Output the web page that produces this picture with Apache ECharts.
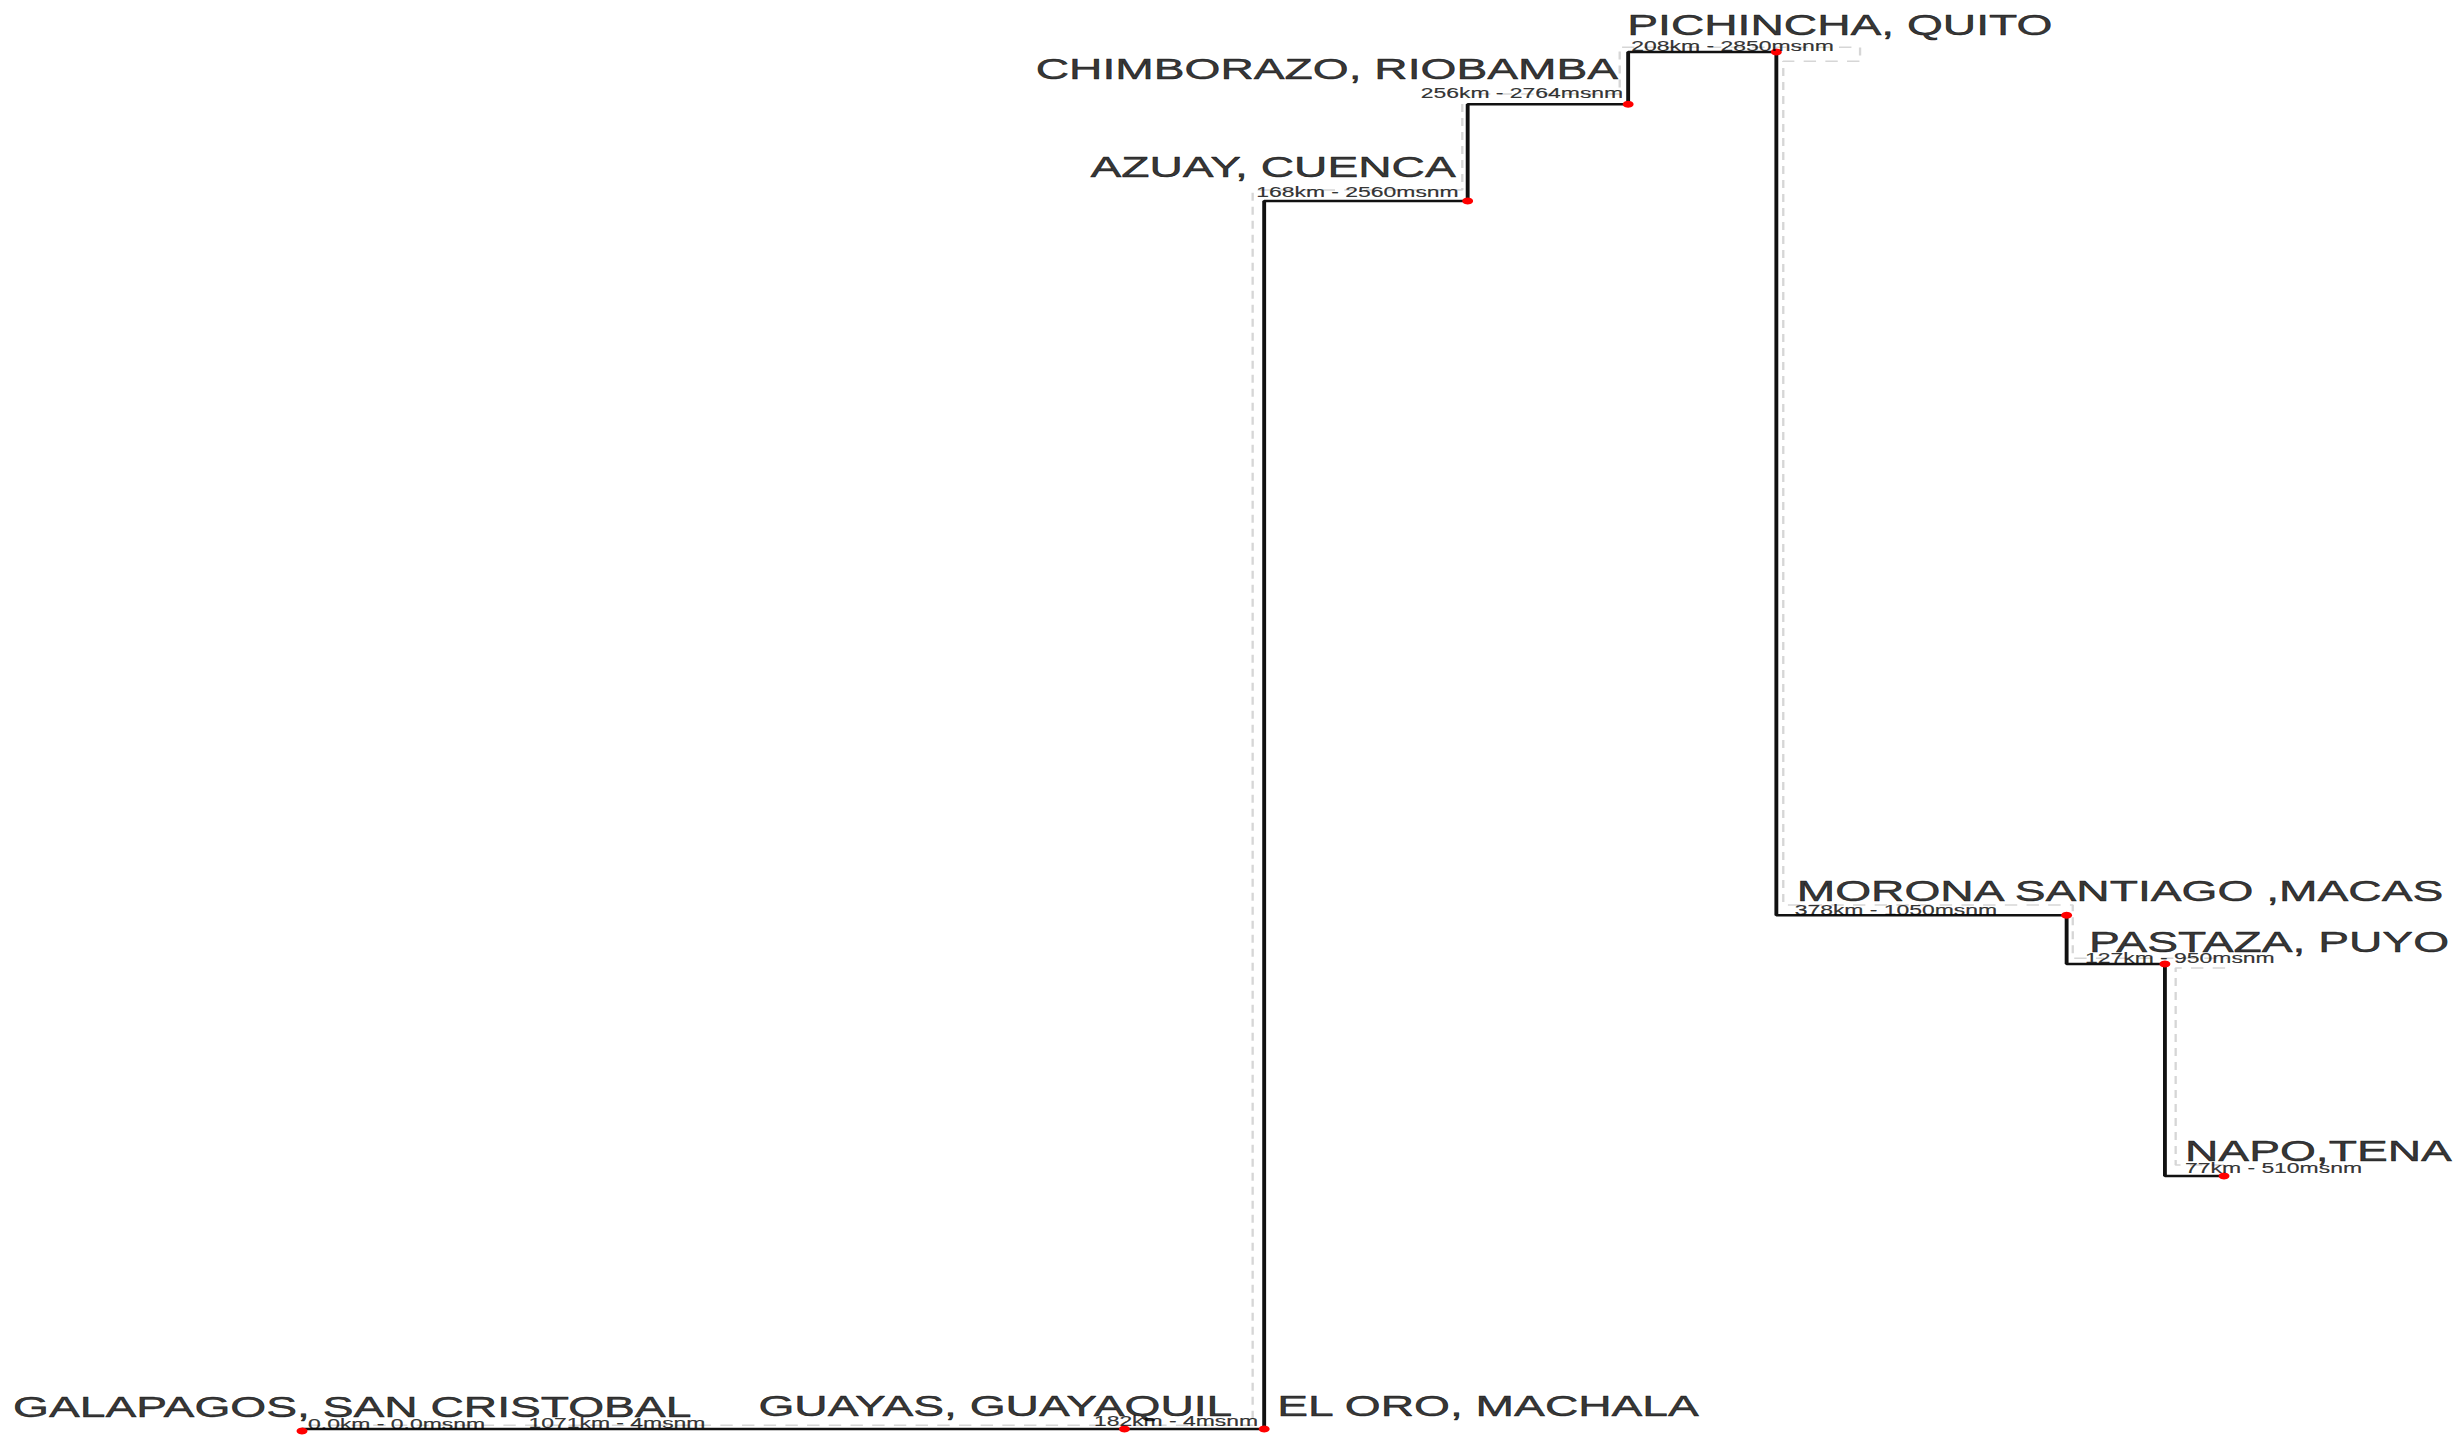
<!DOCTYPE html>
<html>
<head>
  <meta charset="UTF-8">
  <title>Perfil altitudinal</title>
  <script src="https://cdn.jsdelivr.net/npm/echarts@6/dist/echarts.min.js"></script>
  <style>
    html, body { margin: 0; padding: 0; background: #fff; overflow: hidden; }
    /* the original picture is stretched sideways, so the chart is drawn narrower and widened */
    #main {
      width: 1585px;
      height: 1440px;
      transform: scaleX(1.54953);
      transform-origin: 0 0;
    }
  </style>
</head>
<body>
<div id="main"></div>
<script>
  // stops along the route
  const places = ['GALAPAGOS, SAN CRISTOBAL', 'GUAYAS, GUAYAQUIL', 'EL ORO, MACHALA', 'AZUAY, CUENCA',
    'CHIMBORAZO, RIOBAMBA', 'PICHINCHA, QUITO', 'MORONA SANTIAGO ,MACAS', 'PASTAZA, PUYO', 'NAPO,TENA'];
  const legKm = ['0.0', '1071', '182', '168', '256', '208', '378', '127', '77'];
  const legMsnm = ['0.0', '4', '4', '2560', '2764', '2850', '1050', '950', '510'];

  // plotted positions (x: km along route, y: msnm)
  const routeKm = [0, 1071, 1253, 1518, 1727, 1920, 2298, 2426, 2503];
  const altitude = [0, 4, 4, 2542, 2742, 2850, 1066, 965, 527];

  // faint dashed trace drawn behind the profile
  const traceKm = [8, 1238, 1511, 1716, 2029, 1929, 2306, 2580, 2440, 2524];
  const traceAlt = [12, 12, 2565, 2763, 2860, 2831, 1087, 977, 957, 550];

  // label placement, px in the unstretched chart: [dx, dy, align]
  const nameLayout = [[-186.5, -24.5, 'left'], [-236.2, -23, 'left'], [8.4, -23, 'left'], [-7.7, -34, 'right'],
    [-6.5, -36, 'right'], [-96.2, -27, 'left'], [-174.2, -25, 'left'], [-49, -22, 'left'], [-25.2, -25, 'left']];
  const infoLayout = [[3.9, -7, 'left'], [-384.6, -6, 'left'], [-3.9, -8, 'right'], [-5.8, -9, 'right'],
    [-3.2, -11, 'right'], [-93.6, -6, 'left'], [-175.5, -5, 'left'], [-51.6, -6, 'left'], [-25.2, -8, 'left']];

  const font = "'Liberation Sans', Arial, sans-serif";

  const nameData = places.map((p, i) => ({
    value: [routeKm[i], altitude[i]],
    label: {
      formatter: p,
      offset: [nameLayout[i][0], nameLayout[i][1]],
      align: nameLayout[i][2]
    }
  }));
  const infoData = legKm.map((k, i) => ({
    value: [routeKm[i], altitude[i]],
    label: {
      formatter: k + 'km - ' + legMsnm[i] + 'msnm',
      offset: [infoLayout[i][0], infoLayout[i][1]],
      align: infoLayout[i][2]
    }
  }));

  const chart = echarts.init(document.getElementById('main'), null, { renderer: 'svg' });
  chart.setOption({
    animation: false,
    backgroundColor: '#ffffff',
    grid: { left: 194.9, right: 149.7, top: 52, bottom: 9 },
    xAxis: { type: 'value', min: 0, max: 2503, show: false, splitLine: { show: false } },
    yAxis: { type: 'value', min: 0, max: 2850, show: false, splitLine: { show: false } },
    series: [
      {
        type: 'line',
        step: 'start',
        silent: true,
        clip: false,
        symbol: 'none',
        z: 1,
        lineStyle: { color: '#d6d6d6', width: 1.5, type: [8, 6] },
        data: traceKm.map((k, i) => [k, traceAlt[i]])
      },
      {
        type: 'line',
        step: 'start',
        silent: true,
        clip: false,
        symbol: 'circle',
        symbolSize: 7,
        z: 3,
        itemStyle: { color: '#ff0000' },
        lineStyle: { color: '#111', width: 2.5 },
        data: routeKm.map((k, i) => [k, altitude[i]])
      },
      {
        type: 'scatter',
        silent: true,
        symbolSize: 1,
        z: 4,
        itemStyle: { color: 'rgba(0,0,0,0)' },
        label: {
          show: true,
          position: 'inside',
          verticalAlign: 'middle',
          color: '#000',
          fontFamily: font,
          fontSize: 29.8,
          textBorderColor: '#000',
          textBorderWidth: 0.5
        },
        data: nameData
      },
      {
        type: 'scatter',
        silent: true,
        symbolSize: 1,
        z: 4,
        itemStyle: { color: 'rgba(0,0,0,0)' },
        label: {
          show: true,
          position: 'inside',
          verticalAlign: 'middle',
          color: '#000',
          fontFamily: font,
          fontSize: 14.8,
          textBorderColor: '#000',
          textBorderWidth: 0.2
        },
        data: infoData
      }
    ]
  });
</script>
</body>
</html>
